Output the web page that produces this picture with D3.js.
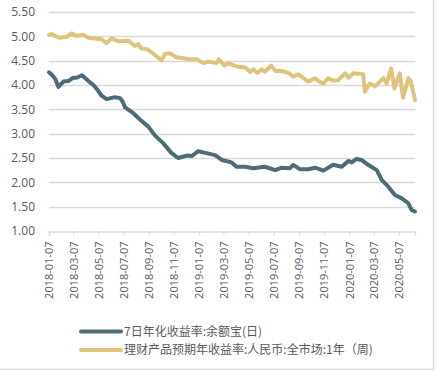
<!DOCTYPE html>
<html>
<head>
<meta charset="utf-8">
<script src="https://cdn.jsdelivr.net/npm/d3@7"></script>
<style>
  body { margin: 0; background: #fff; }
  svg text { font-family: "Noto Sans CJK SC", "DejaVu Sans", sans-serif; fill: #595959; }
</style>
</head>
<body>
<svg id="chart" width="438" height="371"></svg>
<script>
// 7日年化收益率:余额宝(日)
var yebDates = ["2018-01-07","2018-01-15","2018-01-22","2018-01-30","2018-02-11","2018-02-23","2018-03-07","2018-03-15","2018-03-28","2018-04-13","2018-04-25","2018-05-03","2018-05-15","2018-05-27","2018-06-16","2018-06-29","2018-07-05","2018-07-11","2018-07-31","2018-08-16","2018-09-05","2018-09-22","2018-10-12","2018-11-01","2018-11-17","2018-12-08","2018-12-20","2019-01-05","2019-01-25","2019-02-15","2019-03-03","2019-03-27","2019-04-08","2019-04-29","2019-05-19","2019-06-16","2019-07-11","2019-07-27","2019-08-16","2019-08-24","2019-09-09","2019-09-29","2019-10-16","2019-11-05","2019-11-29","2019-12-20","2020-01-05","2020-01-13","2020-01-25","2020-02-06","2020-02-22","2020-03-14","2020-03-26","2020-04-11","2020-04-27","2020-05-14","2020-05-30","2020-06-07","2020-06-15"];
var yebValues = [4.26,4.20,4.13,3.96,4.07,4.08,4.15,4.15,4.20,4.08,4.00,3.92,3.78,3.71,3.75,3.73,3.66,3.54,3.42,3.29,3.15,2.96,2.80,2.60,2.50,2.55,2.54,2.64,2.60,2.56,2.46,2.41,2.32,2.32,2.29,2.32,2.25,2.30,2.29,2.36,2.27,2.27,2.30,2.24,2.36,2.32,2.44,2.41,2.48,2.46,2.36,2.25,2.05,1.91,1.74,1.67,1.57,1.43,1.40];

// 理财产品预期年收益率:人民币:全市场:1年(周)
var wmpDates = ["2018-01-07","2018-01-14","2018-01-21","2018-02-03","2018-02-19","2018-03-03","2018-03-15","2018-03-31","2018-04-13","2018-05-03","2018-05-15","2018-05-27","2018-06-08","2018-06-24","2018-07-19","2018-08-04","2018-08-12","2018-08-20","2018-09-02","2018-09-18","2018-10-08","2018-10-16","2018-10-28","2018-11-13","2018-11-30","2018-12-16","2019-01-01","2019-01-17","2019-01-29","2019-02-19","2019-02-24","2019-03-09","2019-03-19","2019-04-08","2019-04-29","2019-05-11","2019-05-19","2019-05-29","2019-06-08","2019-06-16","2019-07-01","2019-07-11","2019-07-27","2019-08-14","2019-08-24","2019-09-05","2019-09-17","2019-09-29","2019-10-16","2019-10-24","2019-11-05","2019-11-17","2019-11-29","2019-12-11","2019-12-28","2020-01-05","2020-01-17","2020-02-10","2020-02-14","2020-02-26","2020-03-10","2020-03-30","2020-04-07","2020-04-18","2020-04-26","2020-05-09","2020-05-17","2020-05-30","2020-06-05","2020-06-15"];
var wmpValues = [5.03,5.05,5.01,4.97,4.99,5.06,5.01,5.03,4.97,4.95,4.94,4.86,4.96,4.90,4.91,4.80,4.84,4.75,4.74,4.64,4.51,4.64,4.65,4.57,4.55,4.53,4.53,4.45,4.48,4.45,4.53,4.40,4.45,4.38,4.36,4.27,4.32,4.25,4.32,4.27,4.40,4.29,4.29,4.24,4.17,4.22,4.15,4.07,4.14,4.08,4.03,4.14,4.09,4.10,4.24,4.15,4.24,4.22,3.86,4.03,3.97,4.14,4.03,4.34,3.93,4.24,3.74,4.14,4.07,3.69];

var yTicks = [1.00, 1.50, 2.00, 2.50, 3.00, 3.50, 4.00, 4.50, 5.00, 5.50];
var xTickLabels = ["2018-01-07","2018-03-07","2018-05-07","2018-07-07","2018-09-07","2018-11-07","2019-01-07","2019-03-07","2019-05-07","2019-07-07","2019-09-07","2019-11-07","2020-01-07","2020-03-07","2020-05-07"];
var seriesNames = ["7日年化收益率:余额宝(日)", "理财产品预期年收益率:人民币:全市场:1年（周)"];
var seriesColors = ["#4f6b77", "#dfc37b"];

var parse = d3.timeParse("%Y-%m-%d");
var svg = d3.select("#chart");
var margin = {left: 49, right: 23, top: 12, bottom: 140};
var W = 438, H = 371;

var x = d3.scaleTime()
    .domain([parse("2018-01-07"), parse("2020-06-15")])
    .range([margin.left, W - margin.right]);
var y = d3.scaleLinear()
    .domain([1, 5.5])
    .range([H - margin.bottom, margin.top]);

// frame (right + bottom)
svg.append("line").attr("x1", 433.5).attr("x2", 433.5).attr("y1", 0).attr("y2", 370)
    .attr("stroke", "#d9d9d9").attr("stroke-width", 1.5);
svg.append("line").attr("x1", 0).attr("x2", 434).attr("y1", 369.5).attr("y2", 369.5)
    .attr("stroke", "#d9d9d9").attr("stroke-width", 1.5);

// grid
svg.append("g").selectAll("line")
    .data(yTicks.slice(1))
    .enter().append("line")
    .attr("x1", margin.left).attr("x2", W - margin.right)
    .attr("y1", function (d) { return Math.round(y(d)) + 0.5; })
    .attr("y2", function (d) { return Math.round(y(d)) + 0.5; })
    .attr("stroke", "#d9d9d9").attr("stroke-width", 1.5);

// y labels
svg.append("g").selectAll("text")
    .data(yTicks)
    .enter().append("text")
    .attr("x", 35)
    .attr("y", function (d) { return y(d); })
    .attr("dy", "0.35em")
    .attr("text-anchor", "end")
    .style("font-size", "12px")
    .style("font-family", "'Open Sans', 'DejaVu Sans', sans-serif")
    .text(function (d) { return d3.format(".2f")(d); });

// x axis
var xAxis = d3.axisBottom(x)
    .tickValues(xTickLabels.map(parse))
    .tickFormat(d3.timeFormat("%Y-%m-%d"))
    .tickSize(4);
var gx = svg.append("g")
    .attr("transform", "translate(0," + (Math.round(y(1)) + 0.5) + ")")
    .call(xAxis);
gx.select(".domain").attr("stroke", "#d9d9d9").attr("stroke-width", 1.5);
gx.selectAll(".tick line").attr("stroke", "#d9d9d9");
gx.selectAll(".tick text")
    .attr("transform", "rotate(-90)")
    .attr("x", -10).attr("y", 0).attr("dy", "0.35em")
    .attr("text-anchor", "end")
    .style("font-size", "11px")
    .style("font-family", "'Open Sans', 'DejaVu Sans', sans-serif")
    .attr("fill", "#595959");

// lines
var line = d3.line()
    .x(function (d) { return x(d.date); })
    .y(function (d) { return y(d.value); });

function toSeries(dates, values) {
    return dates.map(function (d, i) { return {date: parse(d), value: values[i]}; });
}

var series = [toSeries(yebDates, yebValues), toSeries(wmpDates, wmpValues)];

// gold drawn first, blue on top
[1, 0].forEach(function (i) {
    svg.append("path")
        .datum(series[i])
        .attr("fill", "none")
        .attr("stroke", seriesColors[i])
        .attr("stroke-width", 4)
        .attr("stroke-linejoin", "round")
        .attr("stroke-linecap", "round")
        .attr("d", line);
});

// legend
var legend = svg.append("g").selectAll("g")
    .data(seriesNames)
    .enter().append("g")
    .attr("transform", function (d, i) { return "translate(80," + (331.5 + i * 18.5) + ")"; });
legend.append("line")
    .attr("x1", 1).attr("x2", 41)
    .attr("stroke", function (d, i) { return seriesColors[i]; })
    .attr("stroke-width", 4)
    .attr("stroke-linecap", "round");
legend.append("text")
    .attr("x", 44).attr("dy", "0.35em")
    .style("font-size", "12px")
    .text(function (d) { return d; });
</script>
</body>
</html>
